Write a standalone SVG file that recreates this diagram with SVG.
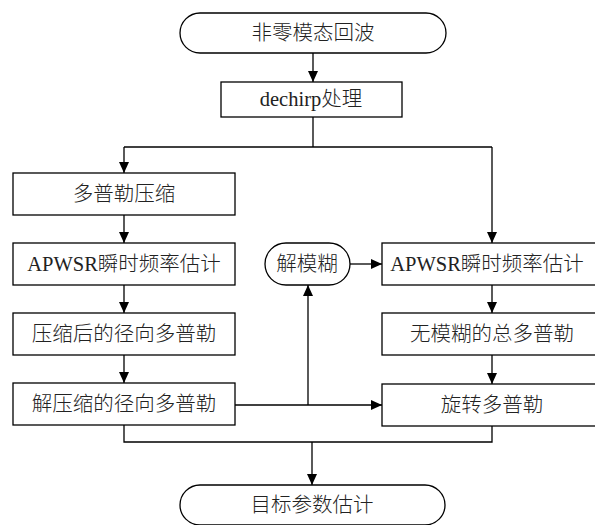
<svg xmlns="http://www.w3.org/2000/svg" width="595" height="525" viewBox="0 0 595 525">
<style>
.box{fill:#fff;stroke:#000;stroke-width:1.3}
.t{font-family:"Liberation Serif","Noto Sans CJK SC",serif;font-size:20.5px;font-weight:300;text-anchor:middle;fill:#222}
.c{fill:none;stroke:#000;stroke-width:1.3}
</style>
<defs>
<marker id="ah" markerUnits="userSpaceOnUse" markerWidth="12" markerHeight="10" refX="11" refY="5" orient="auto">
<path d="M0,0 L11,5 L0,10 Z" fill="#000"/>
</marker>
</defs>
<rect width="595" height="525" fill="#fff"/>
<g id="connectors">
<path class="c" d="M313,53 V82" marker-end="url(#ah)"/>
<path class="c" d="M313,117 V147"/>
<path class="c" d="M124,147 H492"/>
<path class="c" d="M124,147 V173" marker-end="url(#ah)"/>
<path class="c" d="M492,147 V243" marker-end="url(#ah)"/>
<path class="c" d="M124,215 V243" marker-end="url(#ah)"/>
<path class="c" d="M124,285 V313" marker-end="url(#ah)"/>
<path class="c" d="M124,355 V383" marker-end="url(#ah)"/>
<path class="c" d="M235,405 H382" marker-end="url(#ah)"/>
<path class="c" d="M308,405 V285" marker-end="url(#ah)"/>
<path class="c" d="M350,264 H382" marker-end="url(#ah)"/>
<path class="c" d="M492,285 V313" marker-end="url(#ah)"/>
<path class="c" d="M492,355 V384" marker-end="url(#ah)"/>
<path class="c" d="M124,425 V442 H492 V426"/>
<path class="c" d="M312,442 V485" marker-end="url(#ah)"/>
</g>
<g id="n1"><rect class="box" x="180" y="13" width="266" height="40" rx="20"/><text class="t" x="313" y="40">非零模态回波</text></g>
<g id="n2"><rect class="box" x="221" y="82" width="181" height="35"/><text class="t" x="311" y="106">dechirp处理</text></g>
<g id="n3"><rect class="box" x="13" y="173" width="222" height="42"/><text class="t" x="124" y="201">多普勒压缩</text></g>
<g id="n4"><rect class="box" x="13" y="243" width="222" height="42"/><text class="t" x="124" y="271">APWSR瞬时频率估计</text></g>
<g id="n5"><rect class="box" x="13" y="313" width="222" height="42"/><text class="t" x="124" y="341">压缩后的径向多普勒</text></g>
<g id="n6"><rect class="box" x="13" y="383" width="222" height="42"/><text class="t" x="124" y="411">解压缩的径向多普勒</text></g>
<g id="n7"><rect class="box" x="265" y="243" width="85" height="42" rx="21"/><text class="t" x="307" y="271">解模糊</text></g>
<g id="n8"><rect class="box" x="382" y="243" width="222" height="42"/><text class="t" x="487" y="271">APWSR瞬时频率估计</text></g>
<g id="n9"><rect class="box" x="382" y="313" width="222" height="42"/><text class="t" x="492" y="341">无模糊的总多普勒</text></g>
<g id="n10"><rect class="box" x="382" y="384" width="222" height="42"/><text class="t" x="492" y="412">旋转多普勒</text></g>
<g id="n11"><rect class="box" x="180" y="485" width="265" height="40" rx="20"/><text class="t" x="312" y="512">目标参数估计</text></g>
</svg>
